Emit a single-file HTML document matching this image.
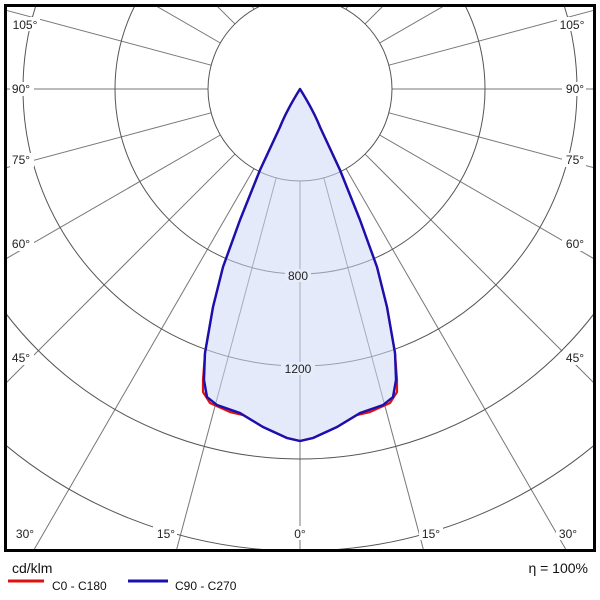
<!DOCTYPE html>
<html><head><meta charset="utf-8"><style>
html,body{margin:0;padding:0;background:#fff;width:600px;height:600px;overflow:hidden;}
svg{display:block;font-family:"Liberation Sans",Arial,sans-serif;}
</style></head><body>
<svg width="600" height="600" viewBox="0 0 600 600">
<defs><clipPath id="c"><rect x="6" y="6" width="588" height="544"/></clipPath></defs>
<g clip-path="url(#c)">
<g transform="translate(300,89)" fill="none">
<g stroke="#777" stroke-width="1">
<line x1="0" y1="92" x2="0" y2="900" transform="rotate(0)"/>
<line x1="0" y1="92" x2="0" y2="900" transform="rotate(15)"/>
<line x1="0" y1="92" x2="0" y2="900" transform="rotate(30)"/>
<line x1="0" y1="92" x2="0" y2="900" transform="rotate(45)"/>
<line x1="0" y1="92" x2="0" y2="900" transform="rotate(60)"/>
<line x1="0" y1="92" x2="0" y2="900" transform="rotate(75)"/>
<line x1="0" y1="92" x2="0" y2="900" transform="rotate(90)"/>
<line x1="0" y1="92" x2="0" y2="900" transform="rotate(105)"/>
<line x1="0" y1="92" x2="0" y2="900" transform="rotate(120)"/>
<line x1="0" y1="92" x2="0" y2="900" transform="rotate(135)"/>
<line x1="0" y1="92" x2="0" y2="900" transform="rotate(150)"/>
<line x1="0" y1="92" x2="0" y2="900" transform="rotate(165)"/>
<line x1="0" y1="92" x2="0" y2="900" transform="rotate(180)"/>
<line x1="0" y1="92" x2="0" y2="900" transform="rotate(-15)"/>
<line x1="0" y1="92" x2="0" y2="900" transform="rotate(-30)"/>
<line x1="0" y1="92" x2="0" y2="900" transform="rotate(-45)"/>
<line x1="0" y1="92" x2="0" y2="900" transform="rotate(-60)"/>
<line x1="0" y1="92" x2="0" y2="900" transform="rotate(-75)"/>
<line x1="0" y1="92" x2="0" y2="900" transform="rotate(-90)"/>
<line x1="0" y1="92" x2="0" y2="900" transform="rotate(-105)"/>
<line x1="0" y1="92" x2="0" y2="900" transform="rotate(-120)"/>
<line x1="0" y1="92" x2="0" y2="900" transform="rotate(-135)"/>
<line x1="0" y1="92" x2="0" y2="900" transform="rotate(-150)"/>
<line x1="0" y1="92" x2="0" y2="900" transform="rotate(-165)"/>
</g>
<g stroke="#555" stroke-width="1">
<circle r="92"/><circle r="185"/><circle r="277"/><circle r="370"/><circle r="462"/><circle r="555"/>
</g>
</g>
<path d="M300,89 C290,105 284,117 280,127 L260,170 L240,220 L223,267 L213,307 L205,353 L203,380 L203,392 L210,403 L230,412 L243,415 L263,427 L287,438 L300,441 L313,438 L337,427 L357,415 L370,412 L390,403 L397,392 L397,380 L395,353 L387,307 L377,267 L360,220 L340,170 L320,127 C316,117 310,105 300,89 Z" fill="#cdd9f5" fill-opacity="0.55" stroke="#e01010" stroke-width="2.2" stroke-linejoin="round"/>
<path d="M300,89 C290,105 284,117 280,127 L260,170 L240,220 L223,267 L213,307 L205,353 L204,380 L207,397 L217,405 L240,413 L263,427 L287,438 L300,441 L313,438 L337,427 L360,413 L383,405 L393,397 L396,380 L395,353 L387,307 L377,267 L360,220 L340,170 L320,127 C316,117 310,105 300,89 Z" fill="none" stroke="#1a10b0" stroke-width="2.4" stroke-linejoin="round"/>
<g font-size="12" fill="#222" text-anchor="middle">
<rect x="285" y="269" width="26" height="13" fill="#e6ecfa"/><text x="298" y="280">800</text>
<rect x="281" y="362" width="34" height="13" fill="#e6ecfa"/><text x="298" y="373">1200</text>
<g fill="#fff"><rect x="10" y="17" width="30" height="14"/><rect x="10" y="82" width="24" height="14"/><rect x="10" y="153" width="24" height="14"/><rect x="10" y="237" width="24" height="14"/><rect x="10" y="351" width="24" height="14"/>
<rect x="557" y="17" width="30" height="14"/><rect x="562" y="82" width="24" height="14"/><rect x="562" y="153" width="24" height="14"/><rect x="562" y="237" width="24" height="14"/><rect x="562" y="351" width="24" height="14"/>
<rect x="13" y="526" width="24" height="14"/><rect x="153" y="526" width="24" height="14"/><rect x="292" y="526" width="16" height="14"/><rect x="419" y="526" width="24" height="14"/><rect x="556" y="526" width="24" height="14"/></g>
<text x="25" y="29">105°</text><text x="21" y="93">90°</text><text x="21" y="164">75°</text><text x="21" y="248">60°</text><text x="21" y="362">45°</text>
<text x="572" y="29">105°</text><text x="575" y="93">90°</text><text x="575" y="164">75°</text><text x="575" y="248">60°</text><text x="575" y="362">45°</text>
<text x="25" y="538">30°</text><text x="166" y="538">15°</text><text x="300" y="538">0°</text><text x="431" y="538">15°</text><text x="568" y="538">30°</text>
</g>
</g>
<rect x="5.5" y="5.5" width="589" height="545" fill="none" stroke="#000" stroke-width="3"/>
<g font-size="13" fill="#111">
<text x="12" y="573" font-size="14">cd/klm</text>
<line x1="8" y1="581" x2="44" y2="581" stroke="#e01010" stroke-width="3"/>
<text x="52" y="590" font-size="12">C0 - C180</text>
<line x1="128" y1="581" x2="168" y2="581" stroke="#1a10b0" stroke-width="3"/>
<text x="175" y="590" font-size="12">C90 - C270</text>
<text x="588" y="573" text-anchor="end" font-size="14">η = 100%</text>
</g>
</svg>
</body></html>
